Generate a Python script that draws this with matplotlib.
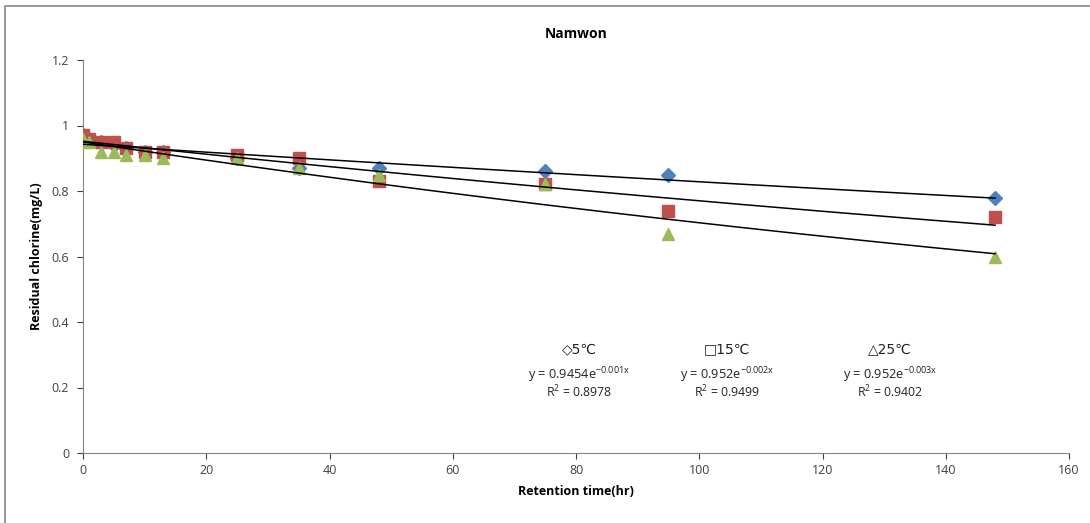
import numpy as np
import matplotlib.pyplot as plt
from matplotlib.patches import Rectangle

# retention time (hr) and residual chlorine (mg/L)
time = np.array([0, 1, 3, 5, 7, 10, 13, 25, 35, 48, 75, 95, 148])
cl_5 = np.array([0.97, 0.96, 0.95, 0.94, 0.93, 0.92, 0.92, 0.90, 0.87, 0.87, 0.86, 0.85, 0.78])
cl_15 = np.array([0.97, 0.96, 0.95, 0.95, 0.93, 0.92, 0.92, 0.91, 0.90, 0.83, 0.82, 0.74, 0.72])
cl_25 = np.array([0.96, 0.95, 0.92, 0.92, 0.91, 0.91, 0.90, 0.90, 0.87, 0.85, 0.82, 0.67, 0.60])

labels = ['\u25c75\u2103', '\u25a115\u2103', '\u25b325\u2103']
equations = ['y = 0.9454e$^{\\mathregular{-0.001x}}$', 'y = 0.952e$^{\\mathregular{-0.002x}}$',
             'y = 0.952e$^{\\mathregular{-0.003x}}$']
r2 = ['R$^{\\mathregular{2}}$ = 0.8978', 'R$^{\\mathregular{2}}$ = 0.9499', 'R$^{\\mathregular{2}}$ = 0.9402']

plt.rcParams['font.family'] = ['Open Sans', 'DejaVu Sans']

fig = plt.figure(figsize=(10.9, 5.23), dpi=100)
ax = fig.add_axes([83/1090, 1 - 453/523, (1069-83)/1090, (453-60)/523])

# outer chart border (Excel chart area)
fig.patches.append(Rectangle((5/1090, -0.1), 1.2, 1 - 6/523 + 0.1, transform=fig.transFigure,
                             fill=False, edgecolor='#888888', linewidth=1.2))

series = [(cl_5, 'D', '#4F81BD', 7), (cl_15, 's', '#C0504D', 8), (cl_25, '^', '#9BBB59', 9)]
tt = np.linspace(0, time.max(), 200)
for vals, m, c, ms in series:
    ax.plot(time, vals, linestyle='none', marker=m, color=c, markersize=ms, zorder=3)
    # exponential trendline, fitted like Excel does (log-linear)
    k, b = np.polyfit(time, np.log(vals), 1)
    ax.plot(tt, np.exp(b) * np.exp(k * tt), color='black', linewidth=1.1, zorder=4)

ax.set_xlim(0, 160)
ax.set_ylim(0, 1.2)
ax.set_xticks(np.arange(0, 161, 20))
ax.set_yticks([0, 0.2, 0.4, 0.6, 0.8, 1.0, 1.2])
ax.set_yticklabels(['0', '0.2', '0.4', '0.6', '0.8', '1', '1.2'])
ax.tick_params(labelsize=9, colors='#404040', length=4, direction='out', pad=6)
ax.tick_params(axis='x', pad=4)
for s in ['top', 'right']:
    ax.spines[s].set_visible(False)
for s in ['left', 'bottom']:
    ax.spines[s].set_color('#868686')

ax.set_title('Namwon', fontsize=10, fontweight='bold', pad=16)
ax.set_xlabel('Retention time(hr)', fontsize=9, fontweight='bold', labelpad=6)
ax.set_ylabel('Residual chlorine(mg/L)', fontsize=9, fontweight='bold', labelpad=6)

# legend-like trendline annotations
xs = [80.5, 104.5, 131]
for x, lab, eq, r in zip(xs, labels, equations, r2):
    ax.text(x, 0.318, lab, ha='center', va='center', fontsize=10, color='#222222',
            family=['DejaVu Sans'])
    ax.text(x, 0.238, eq, ha='center', va='center', fontsize=9.2, color='#222222')
    ax.text(x, 0.186, r, ha='center', va='center', fontsize=8.8, color='#222222')

fig.savefig('out.png', dpi=100)
